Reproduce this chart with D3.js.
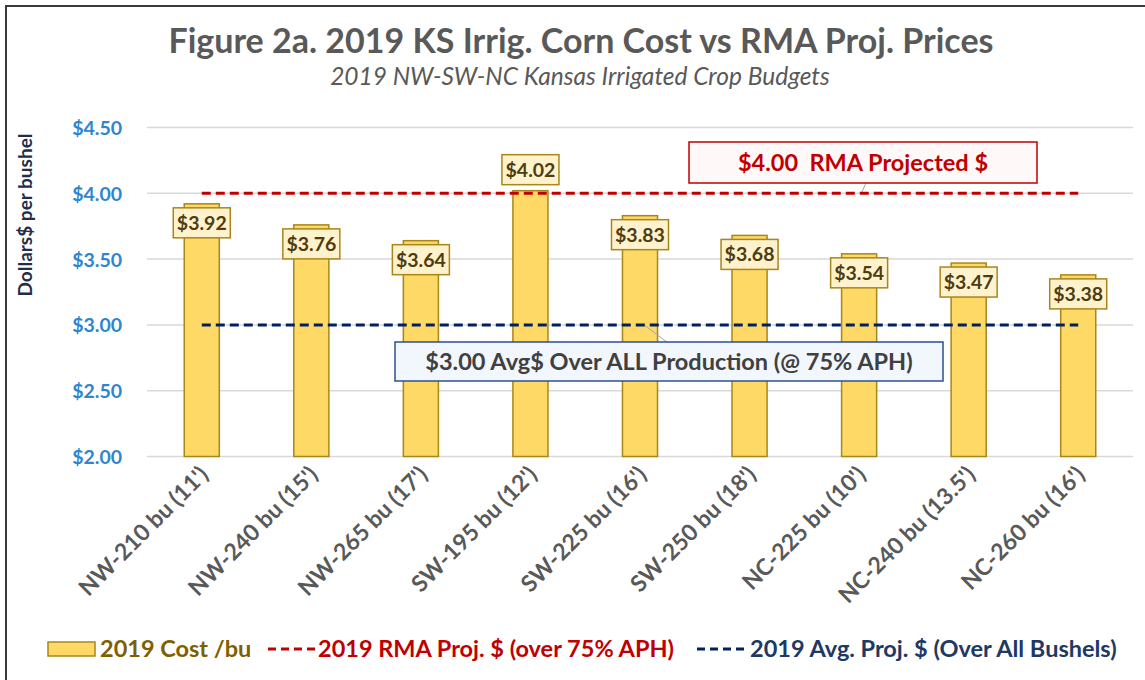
<!DOCTYPE html>
<html lang="en">
<head>
    <meta charset="UTF-8">
    <title>Figure 2a. 2019 KS Irrig. Corn Cost vs RMA Proj. Prices</title>
    <script src="https://cdn.jsdelivr.net/npm/d3@7"></script>
    <style>
        body { margin: 0; background: #fff; }
        text { font-family: Lato, "Open Sans", sans-serif; }
    </style>
</head>
<body>
<script type="application/javascript">
    // data
    const categories = ["NW-210 bu (11')", "NW-240 bu (15')", "NW-265 bu (17')",
        "SW-195 bu (12')", "SW-225 bu (16')", "SW-250 bu (18')",
        "NC-225 bu (10')", "NC-240 bu (13.5')", "NC-260 bu (16')"];
    const costs = [3.92, 3.76, 3.64, 4.02, 3.83, 3.68, 3.54, 3.47, 3.38];
    const rmaPrice = 4.00;
    const avgPrice = 3.00;
    const yTicks = [2.00, 2.50, 3.00, 3.50, 4.00, 4.50];

    const w = 1145, h = 680;
    const svg = d3.select('body')
        .append('svg')
        .attr('width', w)
        .attr('height', h);

    // outer frame (cut off right / bottom)
    svg.append('rect')
        .attr('x', 6).attr('y', 6)
        .attr('width', w + 20).attr('height', h + 20)
        .attr('fill', '#fff')
        .attr('stroke', '#3a3a3a')
        .attr('stroke-width', 2);

    const xScale = d3.scaleBand()
        .domain(categories)
        .range([147, 1133])
        .paddingInner(0.68)
        .paddingOuter(0.34);

    const yScale = d3.scaleLinear()
        .domain([2, 4.5])
        .range([456.5, 127.5]);

    const cx = d => xScale(d) + xScale.bandwidth() / 2;
    const money = d3.format('$.2f');

    // gridlines
    svg.append('g')
        .selectAll('line')
        .data(yTicks)
        .enter()
        .append('line')
        .attr('x1', 147).attr('x2', 1133)
        .attr('y1', d => yScale(d)).attr('y2', d => yScale(d))
        .attr('stroke', '#d9d9d9')
        .attr('stroke-width', 1.5);

    // y axis labels
    const yAxis = svg.append('g')
        .attr('transform', 'translate(122,0)')
        .call(d3.axisLeft(yScale).tickValues(yTicks).tickFormat(money).tickSize(0).tickPadding(0));
    yAxis.select('.domain').remove();
    yAxis.selectAll('text')
        .attr('font-family', 'Lato, sans-serif')
        .attr('font-size', '19.5px')
        .attr('font-weight', 'bold')
        .attr('fill', '#2e86d0')
        .attr('dy', '0.36em');

    svg.append('text')
        .attr('transform', 'translate(32,215) rotate(-90)')
        .attr('text-anchor', 'middle')
        .attr('font-size', '19px')
        .attr('font-weight', 'bold')
        .attr('fill', '#1f2f4a')
        .text('Dollars$ per bushel');

    // bars
    svg.append('g')
        .selectAll('rect')
        .data(costs)
        .enter()
        .append('rect')
        .attr('x', (d, i) => xScale(categories[i]))
        .attr('y', d => yScale(d))
        .attr('width', xScale.bandwidth())
        .attr('height', d => yScale(2) - yScale(d))
        .attr('fill', '#ffd966')
        .attr('stroke', '#a8861a')
        .attr('stroke-width', 1.5);

    // leader lines for callouts
    svg.append('line')
        .attr('x1', 866).attr('y1', 183).attr('x2', 861).attr('y2', 194)
        .attr('stroke', '#a6a6a6').attr('stroke-width', 1);
    svg.append('line')
        .attr('x1', 643).attr('y1', 324).attr('x2', 668).attr('y2', 343)
        .attr('stroke', '#a6a6a6').attr('stroke-width', 1);

    // reference lines
    const first = cx(categories[0]), last = cx(categories[categories.length - 1]);
    svg.append('line')
        .attr('x1', first).attr('x2', last)
        .attr('y1', yScale(rmaPrice)).attr('y2', yScale(rmaPrice))
        .attr('stroke', '#c00000')
        .attr('stroke-width', 3)
        .attr('stroke-dasharray', '9,5');
    svg.append('line')
        .attr('x1', first).attr('x2', last)
        .attr('y1', yScale(avgPrice)).attr('y2', yScale(avgPrice))
        .attr('stroke', '#002060')
        .attr('stroke-width', 3)
        .attr('stroke-dasharray', '9,5');

    // data labels
    const boxW = 57, boxH = 30;
    const boxTop = d => d > rmaPrice ? yScale(d) - 6 - boxH : yScale(d) + 4;
    const labels = svg.append('g')
        .selectAll('g')
        .data(costs)
        .enter()
        .append('g')
        .attr('transform', (d, i) => 'translate(' + cx(categories[i]) + ',' + boxTop(d) + ')');
    labels.append('rect')
        .attr('x', -boxW / 2).attr('y', 0)
        .attr('width', boxW).attr('height', boxH)
        .attr('fill', '#fff2cc')
        .attr('stroke', '#a8861a')
        .attr('stroke-width', 1.5);
    labels.append('text')
        .attr('x', 0).attr('y', boxH / 2 + 7)
        .attr('text-anchor', 'middle')
        .attr('font-size', '19.5px')
        .attr('font-weight', 'bold')
        .attr('fill', '#4d3d10')
        .text(d => money(d));

    // callout boxes
    svg.append('rect')
        .attr('x', 689).attr('y', 142).attr('width', 348).attr('height', 41)
        .attr('fill', '#fff8f8')
        .attr('stroke', '#c00000')
        .attr('stroke-width', 1.5);
    svg.append('text')
        .attr('x', 863).attr('y', 171)
        .attr('text-anchor', 'middle')
        .attr('font-size', '23.5px')
        .attr('font-weight', 'bold')
        .attr('fill', '#c00000')
        .attr('xml:space', 'preserve')
        .text(money(rmaPrice) + '  RMA Projected $');

    svg.append('rect')
        .attr('x', 395).attr('y', 342).attr('width', 548).attr('height', 39)
        .attr('fill', '#f2f6fd')
        .attr('stroke', '#2f4f8f')
        .attr('stroke-width', 1.5);
    svg.append('text')
        .attr('x', 669).attr('y', 370)
        .attr('text-anchor', 'middle')
        .attr('font-size', '23.5px')
        .attr('font-weight', 'bold')
        .attr('fill', '#404040')
        .text(money(avgPrice) + ' Avg$ Over ALL Production (@ 75% APH)');

    // x axis labels
    svg.append('g')
        .selectAll('text')
        .data(categories)
        .enter()
        .append('text')
        .attr('transform', d => 'translate(' + (cx(d) + 8) + ',476) rotate(-45)')
        .attr('text-anchor', 'end')
        .attr('font-size', '23px')
        .attr('font-weight', 'bold')
        .attr('fill', '#595959')
        .text(d => d);

    // titles
    svg.append('text')
        .attr('x', 581).attr('y', 53)
        .attr('text-anchor', 'middle')
        .attr('font-size', '34px')
        .attr('font-weight', 'bold')
        .attr('fill', '#595959')
        .text('Figure 2a. 2019 KS Irrig. Corn Cost vs RMA Proj. Prices');
    svg.append('text')
        .attr('x', 580).attr('y', 85)
        .attr('text-anchor', 'middle')
        .attr('font-size', '24.5px')
        .attr('font-style', 'italic')
        .attr('fill', '#595959')
        .text('2019 NW-SW-NC Kansas Irrigated Crop Budgets');

    // legend
    const legend = svg.append('g').attr('transform', 'translate(0,649)');
    legend.append('rect')
        .attr('x', 48).attr('y', -7).attr('width', 47).attr('height', 14)
        .attr('fill', '#ffd966')
        .attr('stroke', '#a8861a')
        .attr('stroke-width', 1.5);
    legend.append('text')
        .attr('x', 100).attr('y', 8)
        .attr('font-size', '23.5px')
        .attr('font-weight', 'bold')
        .attr('fill', '#7f6000')
        .text('2019 Cost /bu');

    legend.append('line')
        .attr('x1', 268).attr('x2', 316).attr('y1', 0).attr('y2', 0)
        .attr('stroke', '#c00000').attr('stroke-width', 3)
        .attr('stroke-dasharray', '8,5');
    legend.append('text')
        .attr('x', 318).attr('y', 8)
        .attr('font-size', '23.5px')
        .attr('font-weight', 'bold')
        .attr('fill', '#c00000')
        .text('2019 RMA Proj. $ (over 75% APH)');

    legend.append('line')
        .attr('x1', 697).attr('x2', 748).attr('y1', 0).attr('y2', 0)
        .attr('stroke', '#002060').attr('stroke-width', 3)
        .attr('stroke-dasharray', '8,5');
    legend.append('text')
        .attr('x', 750).attr('y', 8)
        .attr('font-size', '23.5px')
        .attr('font-weight', 'bold')
        .attr('fill', '#203864')
        .text('2019 Avg. Proj. $ (Over All Bushels)');
</script>
</body>
</html>
